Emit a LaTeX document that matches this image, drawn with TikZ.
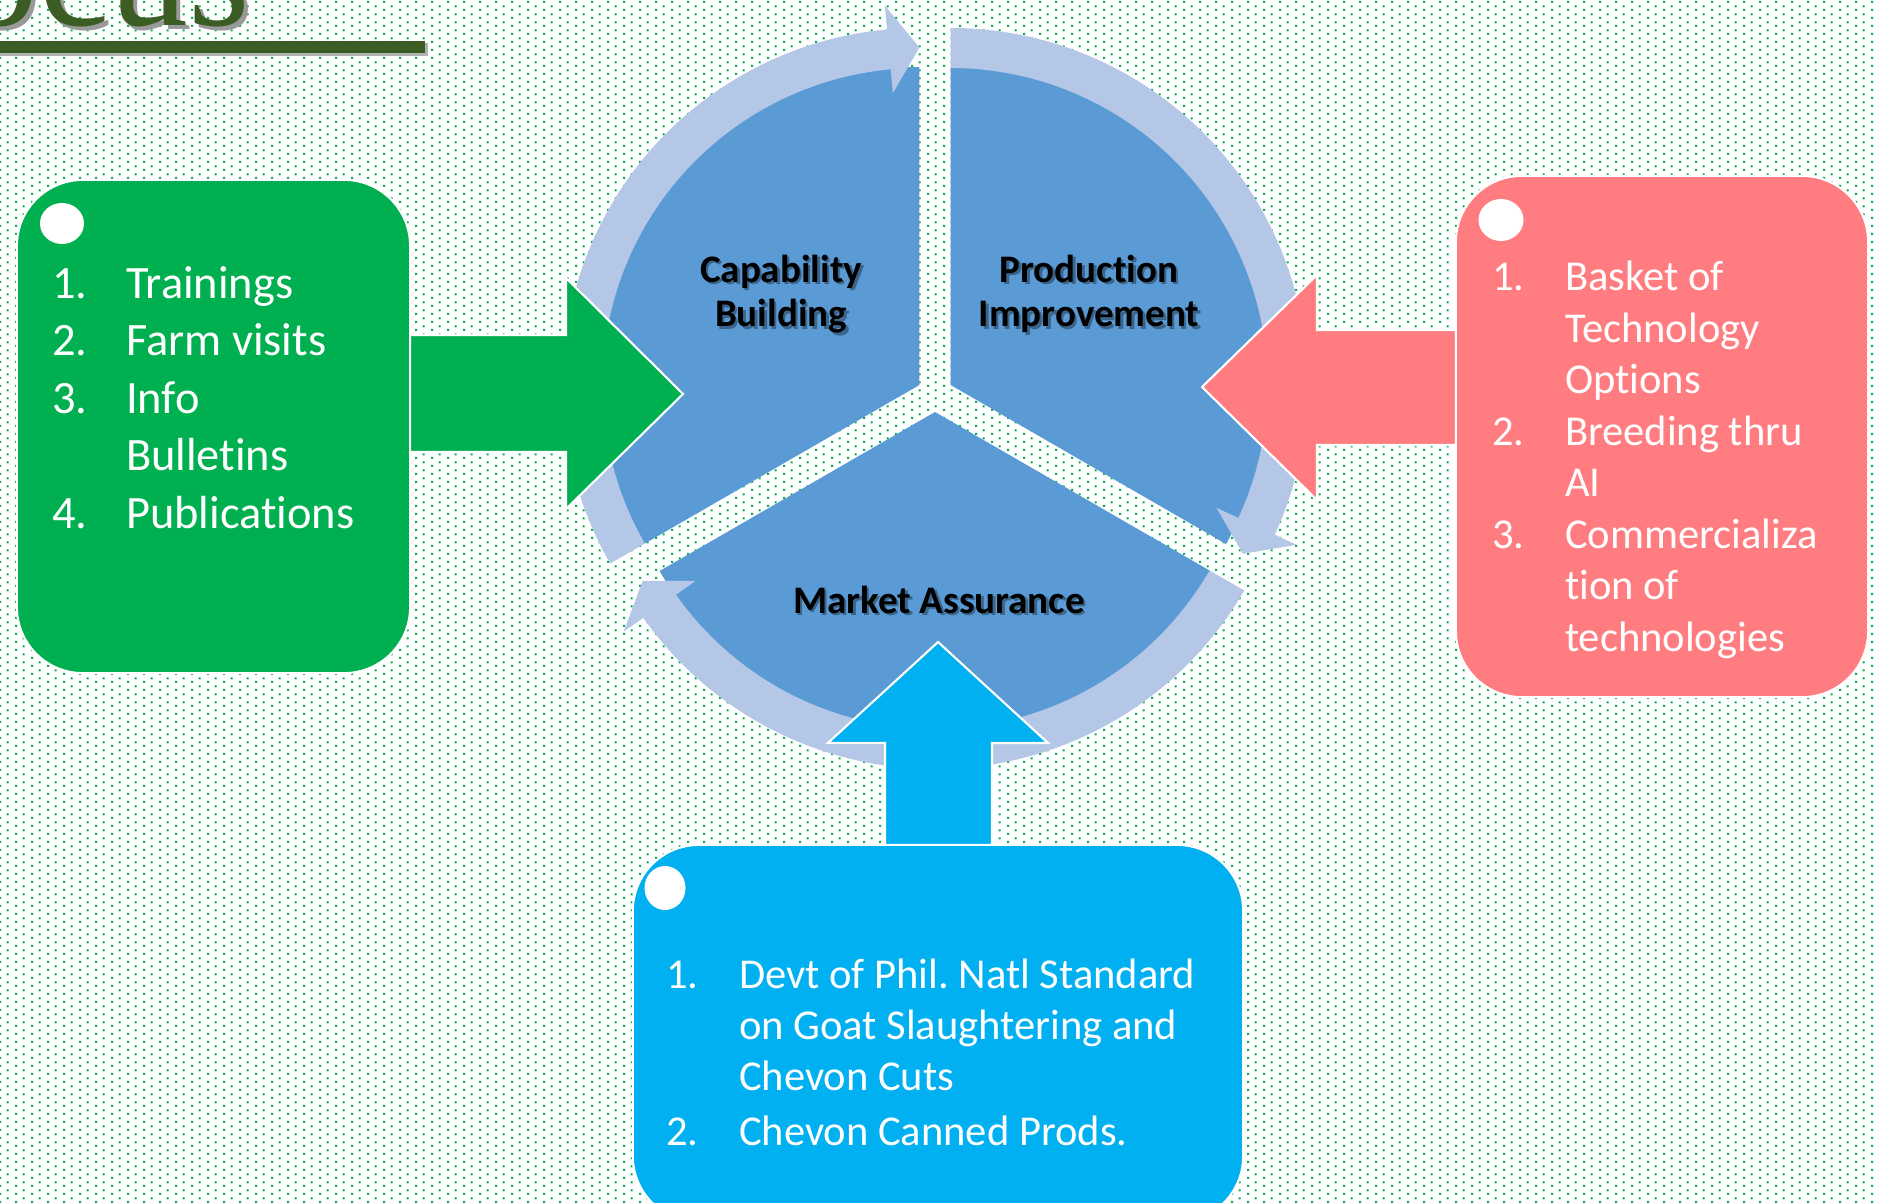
\documentclass[tikz,border=0pt]{standalone}
\usepackage{fontspec}
\setmainfont{Carlito}[Ligatures={NoCommon,NoContextual},Contextuals=NoAlternate]
\newfontfamily\titlefont{Liberation Serif}
\usetikzlibrary{calc,patterns}
\frenchspacing
\definecolor{dotgreen}{HTML}{00B050}
\definecolor{boxgreen}{HTML}{00B050}
\definecolor{boxpink}{HTML}{FF7C80}
\definecolor{boxcyan}{HTML}{00B0F0}
\definecolor{wedgeblue}{HTML}{5B9BD5}
\definecolor{ringblue}{HTML}{B4C7E7}
\definecolor{titlegreen}{HTML}{3B5D23}
\pgfdeclarepatternformonly{bgdots}{\pgfqpoint{0pt}{0pt}}{\pgfqpoint{4.5524pt}{2.2762pt}}{\pgfqpoint{4.5524pt}{2.2762pt}}{%
  \pgfpathrectangle{\pgfqpoint{0pt}{0pt}}{\pgfqpoint{0.66pt}{0.66pt}}%
  \pgfpathrectangle{\pgfqpoint{2.2762pt}{1.1381pt}}{\pgfqpoint{0.66pt}{0.66pt}}%
  \pgfusepath{fill}}

\begin{document}
\begin{tikzpicture}
  [x=0.01cm,y=0.01cm,every node/.style={inner sep=0pt,outer sep=0pt}]
  \tikzstyle{infobox} = [rounded corners=0.66cm,draw=white,line width=0.6pt]
  \tikzstyle{blockarrow} = [draw=white,line width=0.6pt]
  \tikzstyle{wedge} = [fill=wedgeblue]
  \tikzstyle{ring} = [fill=ringblue]
  \tikzstyle{seglabel} = [font=\bfseries\fontsize{11.1}{12.6}\selectfont,align=center]
  \tikzstyle{segshadow} = [seglabel,text=black,text opacity=0.35]
  \tikzstyle{entry} = [anchor=base west,text=white]
  \tikzstyle{gentry} = [entry,font=\fontsize{13.2}{15}\selectfont]
  \tikzstyle{pentry} = [entry,font=\fontsize{12.1}{14}\selectfont]
  \useasboundingbox (0,0) rectangle (1877,1202);
  \fill[white] (0,0) rectangle (1877,1202);
  \fill[pattern=bgdots,pattern color=dotgreen] (0,0) rectangle (1877,1202);

  % title
  \node[anchor=base west,text=black!40,font=\titlefont\fontsize{45}{45}\selectfont] at (-36,1172) {ocus};
  \node[anchor=base west,text=titlegreen,font=\titlefont\fontsize{45}{45}\selectfont] (title) at (-40,1176) {ocus};
  \fill[black!30] (0,1146) rectangle (428,1158.5);
  \fill[titlegreen] (0,1148.7) rectangle (425,1161.3);

  % cycle
  \coordinate (cl) at (919.4,817);
  \coordinate (cr) at (950.6,817);
  \coordinate (cb) at (935,790);
  \foreach \c/\a in {cl/90,cr/-30,cb/210}
    \fill[wedge] (\c) -- ++(\a:318) arc[start angle=\a,end angle=\a+120,radius=318] -- cycle;
  \foreach \c/\a/\b in {cl/210/90,cr/90/-30,cb/-30/-150}
    \fill[ring] ($(\c)+(\a:357)$) arc[start angle=\a,end angle=\b+5.2,radius=357]
      -- ($(\c)+(\b+5.2:381)$) -- ($(\c)+(\b:337.5)$) -- ($(\c)+(\b+5.2:293)$)
      -- ($(\c)+(\b+5.2:317)$) arc[start angle=\b+5.2,end angle=\a,radius=317] -- cycle;

  \node[segshadow] at (783.5,905.5) {Capability\\Building};
  \node[seglabel] (capab) at (781,908) {Capability\\Building};
  \node[segshadow] at (1091.5,905.5) {Production\\Improvement};
  \node[seglabel] (prod) at (1089,908) {Production\\Improvement};
  \node[segshadow,anchor=base] at (941.5,586.5) {Market Assurance};
  \node[seglabel,anchor=base] (market) at (939,589) {Market Assurance};

  % boxes
  \node[infobox,fill=boxgreen,minimum width=3.93cm,minimum height=4.93cm] (gbox) at (213.5,775.5) {};
  \node[infobox,fill=boxpink,minimum width=4.12cm,minimum height=5.21cm] (pbox) at (1662,765.5) {};
  \node[infobox,fill=boxcyan,minimum width=6.10cm,minimum height=3.77cm] (cbox) at (938,168.5) {};
  \fill[white] (62,978.5) ellipse [x radius=22,y radius=20.5];
  \fill[white] (1501,982) ellipse [x radius=22.5,y radius=21];
  \fill[white] (665,314) ellipse [x radius=20.5,y radius=22];

  \foreach \n/\t/\y [count=\i] in {1./Trainings/904,2./Farm visits/846.5,3./Info/789,/Bulletins/731.5,4./Publications/674}
  {
    \node[gentry] (gnum\i) at (52,\y) {\n};
    \node[gentry] (gitem\i) at (126,\y) {\t};
  }
  \foreach \n/\t/\y [count=\i] in {1./Basket of/911.5,/Technology/860,/Options/808.5,2./Breeding thru/757,/AI/705.5,3./Commercializa/654,/tion of/602.5,/technologies/551}
  {
    \node[pentry] (pnum\i) at (1492,\y) {\n};
    \node[pentry] (pitem\i) at (1565,\y) {\t};
  }
  \foreach \n/\t/\y [count=\i] in {1./Devt of Phil. Natl Standard/214,/on Goat Slaughtering and/163,/Chevon Cuts/112,2./Chevon Canned Prods./57}
  {
    \node[pentry] (cnum\i) at (666,\y) {\n};
    \node[pentry] (citem\i) at (739,\y) {\t};
  }

  % arrows into the cycle
  \coordinate (gtip) at (683,808);
  \coordinate (ptip) at (1202,815);
  \coordinate (ctip) at (938,560);
  \filldraw[blockarrow,fill=boxgreen] ($(gbox.east |- gtip)+(0,59)$) -- ++(156,0) -- ++(0,57) -- (gtip)
    -- ++(-117,-115) -- ++(0,57) -- ($(gbox.east |- gtip)+(0,-58)$) -- cycle;
  \filldraw[blockarrow,fill=boxpink] ($(pbox.west |- ptip)+(0,57)$) -- ++(-139,0) -- ++(0,55) -- (ptip)
    -- ++(115,-113) -- ++(0,55) -- ($(pbox.west |- ptip)+(0,-58)$) -- cycle;
  \filldraw[blockarrow,fill=boxcyan] ($(cbox.north -| ctip)+(-53,0)$) -- ++(0,102) -- ++(-57,0) -- (ctip)
    -- ++(110,-101) -- ++(-56,0) -- ($(cbox.north -| ctip)+(54,0)$) -- cycle;
\end{tikzpicture}
\end{document}
